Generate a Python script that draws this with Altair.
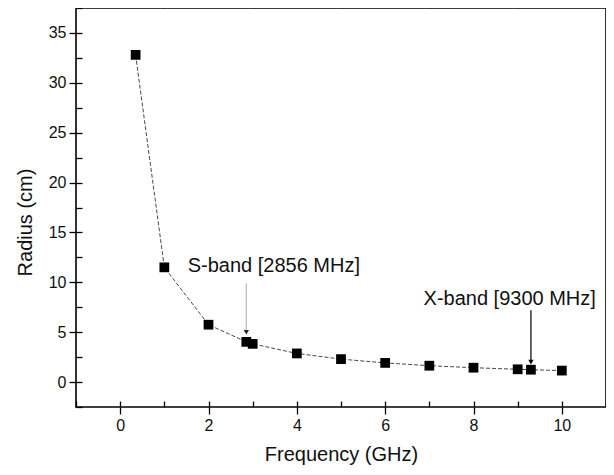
import altair as alt
import pandas as pd

# Data
freq = [0.35, 1, 2, 2.856, 3, 4, 5, 6, 7, 8, 9, 9.3, 10]
radius = [32.8, 11.5, 5.75, 4.03, 3.83, 2.87, 2.3, 1.92, 1.64, 1.44, 1.28, 1.24, 1.15]

ann_text = ["S-band [2856 MHz]", "X-band [9300 MHz]"]
ann_x = [3.48, 8.82]
ann_y = [11.6, 8.3]

arrow_x = [2.856, 9.3]
arrow_top = [9.9, 7.2]
arrow_tip = [5.0, 2.0]
arrow_color = ["#b8b8b8", "#000000"]
head_color = ["#222222", "#000000"]

x_major = [0, 2, 4, 6, 8, 10]
x_minor = [-1, 1, 3, 5, 7, 9, 11]
x_all = list(range(-1, 12))
y_major = [0, 5, 10, 15, 20, 25, 30, 35]
y_minor = [-2.5, 2.5, 7.5, 12.5, 17.5, 22.5, 27.5, 32.5, 37.5]
y_all = [-2.5 + 2.5 * i for i in range(17)]

W, H = 530, 399
FONT = "Liberation Sans"

df = pd.DataFrame({"f": freq, "r": radius})
ann = pd.DataFrame({"t": ann_text, "x": ann_x, "y": ann_y})
arr = pd.DataFrame({"x": arrow_x, "y": arrow_top, "y2": arrow_tip,
                    "c": arrow_color, "h": head_color})

xs = alt.Scale(domain=[-1, 11], nice=False, zero=False)
ys = alt.Scale(domain=[-2.5, 37.5], nice=False, zero=False)

common = dict(domain=False, grid=False, tickColor="#000", tickWidth=1.3,
              labelFont=FONT, titleFont=FONT, labelColor="#111", titleColor="#111")

main_x = alt.Axis(values=x_major, tickSize=7, labelFontSize=16, labelPadding=3,
                  title="Frequency (GHz)", titleFontSize=20, titleFontWeight="normal",
                  titlePadding=11, **common)
main_y = alt.Axis(values=y_major, tickSize=7, labelFontSize=16, labelPadding=3,
                  title="Radius (cm)", titleFontSize=20, titleFontWeight="normal",
                  titlePadding=13, titleY=214, **common)
minor_x = alt.Axis(values=x_minor, tickSize=4, labels=False, title=None, **common)
minor_y = alt.Axis(values=y_minor, tickSize=4, labels=False, title=None, **common)
top_x = alt.Axis(values=x_all, tickSize=6, labels=False, title=None, offset=-H, **common)
right_y = alt.Axis(values=y_all, tickSize=6, labels=False, title=None, offset=-W, **common)

line = alt.Chart(df).mark_line(color="#333", strokeWidth=0.9, strokeDash=[4, 2]).encode(
    x=alt.X("f:Q", scale=xs, axis=main_x),
    y=alt.Y("r:Q", scale=ys, axis=main_y),
)

pts = alt.Chart(df).mark_square(color="#000", size=95, opacity=1).encode(
    x=alt.X("f:Q", scale=xs, axis=minor_x),
    y=alt.Y("r:Q", scale=ys, axis=minor_y),
)

rules = alt.Chart(arr).mark_rule(strokeWidth=1.2).encode(
    x=alt.X("x:Q", scale=xs, axis=top_x),
    y=alt.Y("y:Q", scale=ys, axis=right_y),
    y2="y2:Q",
    color=alt.Color("c:N", scale=None),
)

heads = alt.Chart(arr).mark_point(shape="triangle-down", filled=True, size=28, opacity=1).encode(
    x=alt.X("x:Q", scale=xs, axis=None),
    y=alt.Y("y2:Q", scale=ys, axis=None),
    color=alt.Color("h:N", scale=None),
)

text = alt.Chart(ann).mark_text(font=FONT, fontSize=20, color="#111").encode(
    x=alt.X("x:Q", scale=xs, axis=None),
    y=alt.Y("y:Q", scale=ys, axis=None),
    text="t:N",
)

chart = alt.layer(line, pts, rules, heads, text).resolve_axis(
    x="independent", y="independent"
).properties(
    width=W, height=H,
    padding={"left": 68, "top": 0, "right": 0, "bottom": 64},
    autosize=alt.AutoSizeParams(type="none"),
).configure_view(stroke="#000", strokeWidth=1.6)

chart.save("out.html", embed_options={"renderer": "svg", "actions": False})
